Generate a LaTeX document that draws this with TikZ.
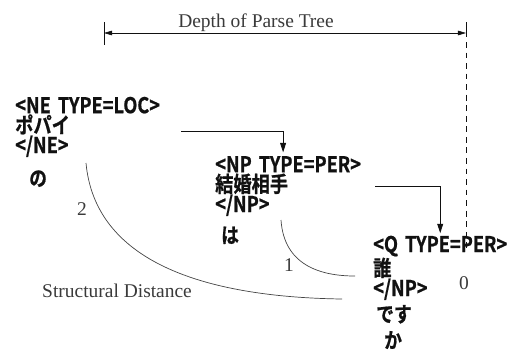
\documentclass[tikz,border=0pt]{standalone}
\usepackage{fontspec}
\setmainfont{Liberation Serif}
\newfontfamily\jpfont[FakeStretch=0.84,WordSpace=1.7,BoldFont={Noto Sans CJK JP Bold},BoldFeatures={FakeBold=0.8}]{Noto Sans CJK JP}
\usetikzlibrary{arrows.meta}
\definecolor{ink}{HTML}{111111}
\definecolor{muted}{HTML}{3A3A3A}
\definecolor{arc}{HTML}{444444}

\begin{document}
\begin{tikzpicture}[
    x=0.03cm, y=-0.03cm,
    tag/.style={font=\jpfont\bfseries\fontsize{18.5}{17}\selectfont, text=ink, align=left, inner sep=0pt, anchor=base west},
    particle/.style={font=\jpfont\bfseries\fontsize{18}{17}\selectfont, text=ink, inner sep=0pt, anchor=base west},
    caption/.style={font=\fontsize{16.6}{18}\selectfont, text=muted, inner sep=0pt},
    link/.style={draw=ink, line width=0.7pt, -{Triangle[length=8pt,width=5pt]}},
    arcline/.style={draw=arc, line width=0.6pt},
    dim/.style={draw=ink, line width=0.6pt}
]
\useasboundingbox (0,0) rectangle (513,350);

% Tagged phrases (placed at the baseline of their last line).
\node[tag] (ne) at (15,153) {<NE TYPE=LOC>\\ポパイ\\</NE>};
\node[tag] (np) at (215,212) {<NP TYPE=PER>\\結婚相手\\</NP>};
\node[tag] (q) at (373,296) {<Q TYPE=PER>\\誰\\</NP>};
\node[particle] (no) at (29,186) {の};
\node[particle] (wa) at (221,243) {は};
\node[particle] (desu) at (376,322) {です};
\node[particle] (ka) at (384,348) {か};

\draw[link, shorten >=3pt] ([shift={(21,5)}]ne.east) -| ([shift={(-5,0)}]np.north);
\draw[link, shorten >=2pt] ([shift={(14,0)}]np.east) -| (q.north);

% Depth of parse tree.
\coordinate (dl) at (104,22);
\coordinate (dr) at (466,22);
\draw[dim] (dl) -- ++(0,23);
\draw[dim] (dr) -- ++(0,15);
\draw[dim, {Triangle[length=7pt,width=4pt]}-{Triangle[length=7pt,width=4pt]}]
    ([shift={(0,11)}]dl) -- ([shift={(0,11)}]dr);
\node[caption, anchor=base] (depth) at (256,27) {Depth of Parse Tree};
\coordinate (dend) at (466,248);
\draw[dim, dash pattern=on 5pt off 4pt] ([shift={(0,20)}]dr) -- (dend);

% Structural distance.
\draw[arcline] (86,163) .. controls (95,260) and (200,297) .. (342,299);
\draw[arcline] (281,220) .. controls (284,265) and (320,276) .. (355,276);
\node[caption] (two) at (82,209) {2};
\node[caption] (one) at (289,265) {1};
\node[caption] (zero) at (464,283) {0};
\node[caption, anchor=base west] (sd) at (42,297) {Structural Distance};
\end{tikzpicture}
\end{document}
